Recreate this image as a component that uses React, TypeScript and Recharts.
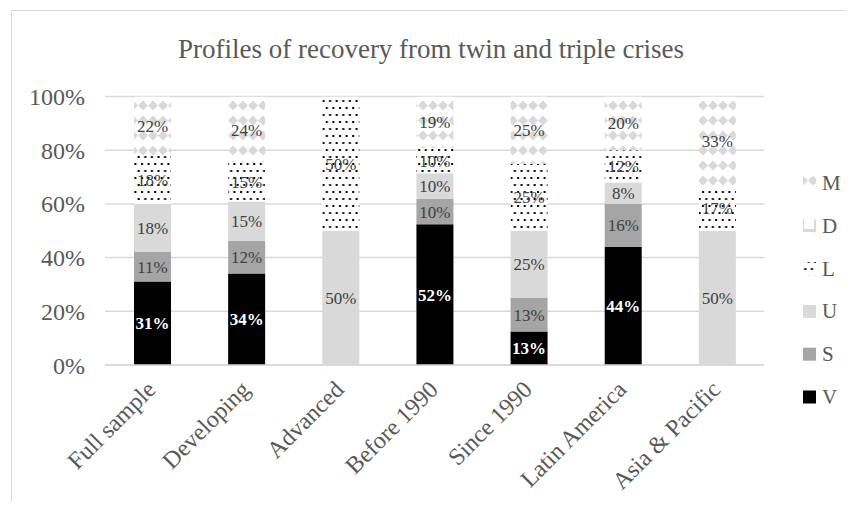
import React from 'react';
import { BarChart, Bar, XAxis, YAxis, CartesianGrid, LabelList } from 'recharts';

const TITLE = 'Profiles of recovery from twin and triple crises';
const CATEGORIES = ['Full sample', 'Developing', 'Advanced', 'Before 1990', 'Since 1990', 'Latin America', 'Asia & Pacific'];
const V_VALUES = [31.1, 34.1, 0, 52.4, 12.5, 44, 0];
const S_VALUES = [11.1, 12.2, 0, 9.5, 12.5, 16, 0];
const U_VALUES = [17.8, 14.6, 50, 9.5, 25, 8, 50];
const L_VALUES = [17.8, 14.6, 50, 9.5, 25, 12, 16.7];
const D_VALUES = [0, 0, 0, 0, 0, 0, 0];
const M_VALUES = [22.2, 24.4, 0, 19.1, 25, 20, 33.3];
const Y_TICKS = [0, 20, 40, 60, 80, 100];
const SERIES_NAMES = ['V', 'S', 'U', 'L', 'D', 'M'];

const FONT = '"Liberation Serif", "Times New Roman", serif';
const TEXT = '#595959';

const FILLS: Record<string, string> = {
  V: '#000000',
  S: '#a5a5a5',
  U: '#d9d9d9',
  L: 'url(#patL)',
  D: 'url(#patD)',
  M: 'url(#patM)',
};

const data = CATEGORIES.map((name, i) => ({
  name,
  V: V_VALUES[i],
  S: S_VALUES[i],
  U: U_VALUES[i],
  L: L_VALUES[i],
  D: D_VALUES[i],
  M: M_VALUES[i],
}));

const XTick = (props: any) => {
  const { x, y, payload } = props;
  return (
    <g transform={`translate(${x - 1},${y + 12})`}>
      <text
        x={0}
        y={0}
        dy="0.35em"
        textAnchor="end"
        transform="rotate(-45)"
        fill={TEXT}
        fontSize={24}
        fontFamily={FONT}
      >
        {payload.value}
      </text>
    </g>
  );
};

const fmt = (v: any) => {
  const n = Number(v);
  if (!n) return '';
  return `${Math.round(n)}%`;
};

export default function App() {
  const legendOrder = [...SERIES_NAMES].reverse();
  const legendY0 = 183;
  const legendStep = 42.8;
  return (
    <div style={{ position: 'relative', width: 846, height: 494 }}>
      <svg width={0} height={0} style={{ position: 'absolute' }}>
        <defs>
          <pattern id="patM" patternUnits="userSpaceOnUse" width={10} height={15}>
            <rect x={0} y={0} width={10} height={15} fill="#ffffff" />
            <path d="M5 2.5 L10 7.5 L5 12.5 L0 7.5 Z" fill="#d9d9d9" />
          </pattern>
          <pattern id="patL" patternUnits="userSpaceOnUse" width={6.6} height={14}>
            <rect x={0} y={0} width={6.6} height={14} fill="#ffffff" />
            <rect x={1} y={1} width={2} height={2} fill="#000000" />
            <rect x={4.3} y={8} width={2} height={2} fill="#000000" />
          </pattern>
          <pattern id="patD" patternUnits="userSpaceOnUse" width={13} height={13}>
            <rect x={0} y={0} width={13} height={13} fill="#d9d9d9" />
            <rect x={3} y={3} width={10} height={10} fill="#ffffff" />
          </pattern>
        </defs>
      </svg>
      <div
        style={{
          position: 'absolute',
          left: 3,
          top: 2,
          width: 842,
          height: 499,
          borderLeft: '1px solid #d9d9d9',
          borderTop: '1px solid #d9d9d9',
        }}
      />
      <div style={{ position: 'absolute', left: 0, top: 0 }}>
        <BarChart
          width={846}
          height={494}
          data={data}
          margin={{ top: 88.5, right: 90, bottom: 7, left: 37 }}
          barSize={37}
        >
          <CartesianGrid vertical={false} stroke="#d9d9d9" strokeWidth={1.5} />
          <XAxis
            dataKey="name"
            interval={0}
            height={130}
            tickLine={false}
            axisLine={{ stroke: '#d9d9d9', strokeWidth: 1.5 }}
            tick={<XTick />}
          />
          <YAxis
            width={60}
            domain={[0, 100]}
            ticks={Y_TICKS}
            allowDataOverflow
            tickFormatter={(v: number) => `${v}%`}
            axisLine={false}
            tickLine={false}
            tickMargin={14}
            tick={{ fill: TEXT, fontSize: 24, fontFamily: FONT }}
          />
          {SERIES_NAMES.map((k) => (
            <Bar key={k} dataKey={k} stackId="a" fill={FILLS[k]} isAnimationActive={false}>
              <LabelList
                dataKey={k}
                position="center"
                formatter={fmt}
                fill={k === 'V' ? '#ffffff' : '#404040'}
                fontWeight={k === 'V' ? 'bold' : 'normal'}
                fontSize={17}
                fontFamily={FONT}
              />
            </Bar>
          ))}
        </BarChart>
      </div>
      <svg
        width={846}
        height={494}
        style={{ position: 'absolute', left: 0, top: 0, pointerEvents: 'none' }}
      >
        <text x={423} y={50} textAnchor="middle" fill={TEXT} fontSize={27} fontFamily={FONT}>
          {TITLE}
        </text>
        {legendOrder.map((k, i) => {
          const cy = legendY0 - 8 + i * legendStep;
          return (
            <g key={k}>
              <rect x={795} y={cy - 6.5} width={13} height={13} fill={FILLS[k]} />
              <text x={814} y={cy + 7} fill={TEXT} fontSize={21} fontFamily={FONT}>
                {k}
              </text>
            </g>
          );
        })}
      </svg>
    </div>
  );
}
